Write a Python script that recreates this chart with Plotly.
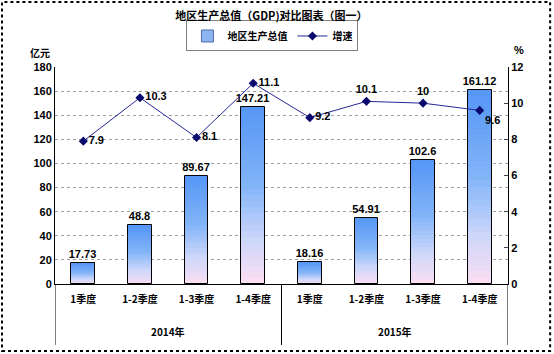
import plotly.graph_objects as go

year_labels = ["2014年", "2015年"]
quarters = ["1季度", "1-2季度", "1-3季度", "1-4季度"] * 2
gdp = [17.73, 48.8, 89.67, 147.21, 18.16, 54.91, 102.6, 161.12]
growth = [7.9, 10.3, 8.1, 11.1, 9.2, 10.1, 10, 9.6]
growth_text = ["7.9", "10.3", "8.1", "11.1", "9.2", "10.1", "10", "9.6"]
growth_pos = ["middle right", "middle right", "middle right", "middle right",
              "middle right", "top center", "top center", "bottom right"]

x = list(range(len(quarters)))
FONT = "Liberation Sans, Arial, Noto Sans CJK SC"
CJK = "Noto Sans CJK SC"
BAR_W = 0.42

# gradient stops: (fraction from bottom, rgb)
stops = [(0.0, (252, 222, 244)), (0.25, (205, 215, 250)), (0.55, (130, 180, 248)), (1.0, (85, 150, 245))]


def col(f):
    for (f0, c0), (f1, c1) in zip(stops[:-1], stops[1:]):
        if f0 <= f <= f1:
            t = (f - f0) / (f1 - f0)
            return "rgb(%d,%d,%d)" % tuple(round(a + (b - a) * t) for a, b in zip(c0, c1))
    return "rgb(%d,%d,%d)" % stops[-1][1]


fig = go.Figure()
N = 30
for i in range(N):
    fig.add_trace(go.Bar(
        x=x, y=[v / N for v in gdp], base=[v * i / N for v in gdp],
        width=BAR_W, marker=dict(color=col((i + 0.5) / N), line=dict(width=0)),
        showlegend=False, hoverinfo="skip"))

# outline + labels
fig.add_trace(go.Bar(
    x=x, y=gdp, width=BAR_W, name="地区生产总值",
    marker=dict(color="rgba(0,0,0,0)", line=dict(color="black", width=1)),
    text=[f"{v:g}" for v in gdp], textposition="outside", cliponaxis=False,
    constraintext="none",
    textfont=dict(family=FONT, size=11, color="black", weight="bold"),
    showlegend=False))
# legend proxy
fig.add_trace(go.Bar(x=[None], y=[None], name="地区生产总值",
                     marker=dict(color="rgb(140,180,240)", line=dict(color="rgb(80,110,170)", width=1))))

fig.add_trace(go.Scatter(
    x=x, y=growth, yaxis="y2", mode="lines+markers+text", name="增速",
    line=dict(color="rgb(40,40,150)", width=1),
    marker=dict(symbol="diamond", size=7, color="rgb(10,10,110)"),
    text=growth_text, textposition=growth_pos, cliponaxis=False,
    textfont=dict(family=FONT, size=11, color="black", weight="bold")))

annotations = [
    dict(text="<b>亿元</b>", xref="paper", yref="paper", x=-0.033, y=1.069,
         xanchor="center", yanchor="middle", showarrow=False, font=dict(size=10, family=CJK)),
    dict(text="<b>%</b>", xref="paper", yref="paper", x=1.024, y=1.078,
         xanchor="center", yanchor="middle", showarrow=False, font=dict(size=11)),
]
for k, yl in enumerate(year_labels):
    annotations.append(dict(text=f"<b>{yl}</b>", xref="x", yref="paper", x=1.5 + 4 * k,
                            y=-0.22, yanchor="middle", showarrow=False,
                            font=dict(size=10, family=CJK)))

shapes = [dict(type="rect", xref="paper", yref="paper", x0=-0.117, x1=1.093,
               y0=-0.309, y1=1.30, line=dict(color="black", width=2, dash="dot"))]
for xv in (-0.5, 3.5, 7.5):
    shapes.append(dict(type="line", xref="x", yref="paper", x0=xv, x1=xv, y0=0, y1=-0.281,
                       line=dict(color="black", width=1)))

fig.update_layout(
    width=554, height=354,
    margin=dict(l=55, r=46, t=67, b=70),
    barmode="overlay", bargap=0,
    paper_bgcolor="white", plot_bgcolor="white",
    font=dict(family=FONT, size=11, color="black"),
    title=dict(text="<b>地区生产总值（GDP)对比图表（图一）</b>", x=0.49, xanchor="center",
               y=0.955, yanchor="middle", font=dict(size=11, family=CJK)),
    legend=dict(orientation="h", x=0.48, xanchor="center", y=1.143, yanchor="middle",
                bordercolor="gray", borderwidth=1, bgcolor="white",
                font=dict(size=10, family=CJK, weight="bold"),
                traceorder="normal", itemwidth=30),
    xaxis=dict(range=[-0.5, 7.5], tickvals=x, ticktext=quarters, showline=True,
               linecolor="black", linewidth=1, ticks="", showgrid=False, zeroline=False,
               ticklabelstandoff=6,
               tickfont=dict(size=10, family=CJK, weight="bold")),
    yaxis=dict(range=[0, 180], dtick=20, showgrid=True, gridcolor="rgb(160,160,160)",
               griddash="dot", showline=True, linecolor="black", linewidth=1,
               tickfont=dict(size=11, weight="bold"), ticks="", zeroline=False),
    yaxis2=dict(range=[0, 12], dtick=2, overlaying="y", side="right", showgrid=False,
                showline=True, linecolor="black", linewidth=1, ticks="inside", ticklen=4,
                tickfont=dict(size=11, weight="bold"), zeroline=False),
    annotations=annotations,
    shapes=shapes,
)

fig.write_html("out.html")
